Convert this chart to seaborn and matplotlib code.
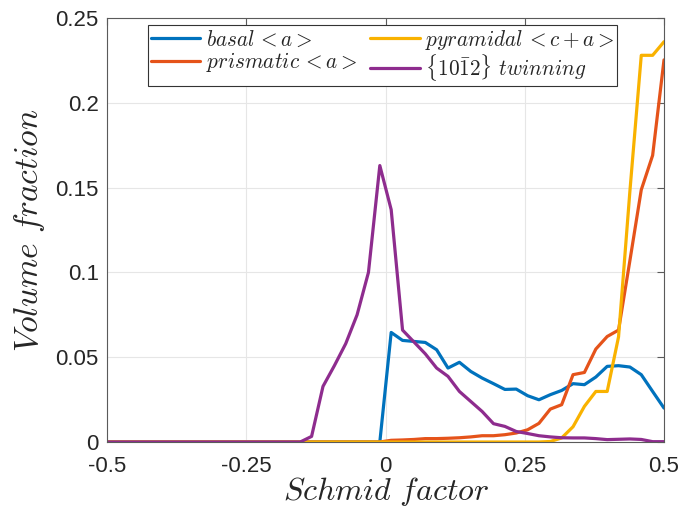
import numpy as np
import pandas as pd
import matplotlib
matplotlib.use("Agg")
import matplotlib.pyplot as plt
import seaborn as sns

# ---- data ----
schmid = [-0.5, -0.4796, -0.4592, -0.4388, -0.4184, -0.3980, -0.3776, -0.3571, -0.3367, -0.3163,
          -0.2959, -0.2755, -0.2551, -0.2347, -0.2143, -0.1939, -0.1735, -0.1531, -0.1327, -0.1122,
          -0.0918, -0.0714, -0.0510, -0.0306, -0.0102, 0.0102, 0.0306, 0.0510, 0.0714, 0.0918,
          0.1122, 0.1327, 0.1531, 0.1735, 0.1939, 0.2143, 0.2347, 0.2551, 0.2755, 0.2959,
          0.3163, 0.3367, 0.3571, 0.3776, 0.3980, 0.4184, 0.4388, 0.4592, 0.4796, 0.5]

basal = [0]*24 + [0.0, 0.0646, 0.0599, 0.0593, 0.0587, 0.0544, 0.0436, 0.047, 0.0416, 0.0377,
                  0.0344, 0.031, 0.0312, 0.0273, 0.0249, 0.0279, 0.0304, 0.0344, 0.0338, 0.0383,
                  0.0446, 0.045, 0.0442, 0.0397, 0.0298, 0.020]

prismatic = [0]*24 + [0.0, 0.001, 0.0012, 0.0015, 0.002, 0.002, 0.0022, 0.0025, 0.003, 0.0037,
                      0.0037, 0.0043, 0.0053, 0.0072, 0.011, 0.0194, 0.022, 0.0397, 0.041, 0.0548,
                      0.0622, 0.066, 0.107, 0.1487, 0.169, 0.2253]

pyramidal = [0]*39 + [0.0003, 0.0024, 0.009, 0.021, 0.0298, 0.0298, 0.062, 0.148, 0.228, 0.228, 0.236]

twinning = [0]*18 + [0.0033, 0.0328, 0.045, 0.058, 0.075, 0.100, 0.163, 0.137, 0.066, 0.059,
                     0.052, 0.0436, 0.0387, 0.0298, 0.0239, 0.018, 0.0108, 0.0092, 0.0062, 0.005,
                     0.0037, 0.003, 0.0025, 0.0024, 0.0024, 0.002, 0.0014, 0.0016, 0.0018, 0.0015,
                     0.0002, 0.0002]

series_names = ["basal", "prismatic", "pyramidal", "twinning"]
legend_labels = [r"$basal\,<a>$", r"$prismatic\,<a>$", r"$pyramidal\,<c+a>$",
                 r"$\{10\bar{1}2\}\ twinning$"]
colors = ["#0072BD", "#E5531A", "#F9B200", "#8E2C8E"]

x_ticks = [-0.5, -0.25, 0, 0.25, 0.5]
x_tick_labels = ["-0.5", "-0.25", "0", "0.25", "0.5"]
y_ticks = [0, 0.05, 0.1, 0.15, 0.2, 0.25]
y_tick_labels = ["0", "0.05", "0.1", "0.15", "0.2", "0.25"]

frames = []
for name, vals in zip(series_names, [basal, prismatic, pyramidal, twinning]):
    frames.append(pd.DataFrame({"x": schmid, "v": vals, "s": name}))
df = pd.concat(frames, ignore_index=True)

sns.set_style("white")
plt.rcParams["font.family"] = ["Liberation Sans", "DejaVu Sans"]
plt.rcParams["mathtext.fontset"] = "cm"

fig = plt.figure(figsize=(6.81, 5.13), dpi=100)
ax = fig.add_axes([107/681, 71/513, 557/681, 424/513])

sns.lineplot(data=df, x="x", y="v", hue="s", hue_order=series_names,
             palette=dict(zip(series_names, colors)), linewidth=2.3,
             sort=False, errorbar=None, ax=ax, legend=False)

ax.set_xlim(-0.5, 0.5)
ax.set_ylim(0, 0.25)
ax.set_xticks(x_ticks)
ax.set_xticklabels(x_tick_labels)
ax.set_yticks(y_ticks)
ax.set_yticklabels(y_tick_labels)
ax.grid(True, color="#e6e6e6", linewidth=0.8)
ax.set_axisbelow(True)
for sp in ax.spines.values():
    sp.set_visible(True)
    sp.set_color("#5a5a5a")
    sp.set_linewidth(0.8)
ax.tick_params(direction="in", length=5, width=0.8, color="#5a5a5a",
               top=True, right=True, labelsize=16, labelcolor="#262626")
ax.tick_params(axis="x", pad=10)
ax.tick_params(axis="y", pad=6)

ax.set_xlabel(r"$Schmid\ factor$", fontsize=23, color="#262626", labelpad=-1)
ax.set_ylabel(r"$Volume\ fraction$", fontsize=24, color="#262626", labelpad=6)

handles = [plt.Line2D([], [], color=c, linewidth=2.3) for c in colors]
leg = ax.legend(handles, legend_labels, ncol=2, loc="upper left",
                bbox_to_anchor=(0.0736, 0.9835), fontsize=15.3, frameon=True,
                fancybox=False, edgecolor="#333333", framealpha=1,
                handlelength=2.35, handletextpad=0.25, columnspacing=0.6,
                borderpad=0.12, labelspacing=0.02, borderaxespad=0)
leg.get_frame().set_linewidth(0.8)

fig.savefig("out.png", dpi=100)
